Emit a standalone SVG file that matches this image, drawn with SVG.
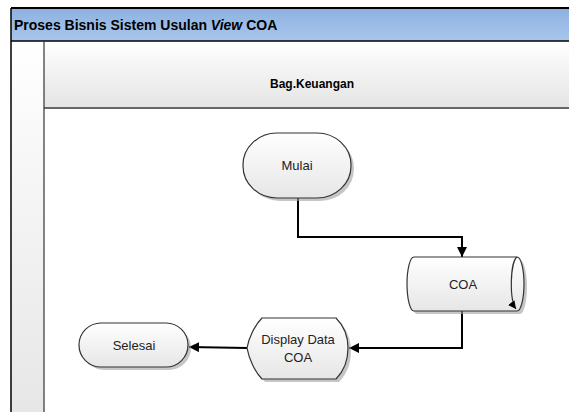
<svg xmlns="http://www.w3.org/2000/svg" width="569" height="412" viewBox="0 0 569 412">
<defs>
<linearGradient id="gTitle" x1="0" y1="0" x2="0" y2="1"><stop offset="0" stop-color="#8cb1e0"/><stop offset="1" stop-color="#a9c6ec"/></linearGradient>
<linearGradient id="gHead" x1="0" y1="0" x2="0" y2="1"><stop offset="0" stop-color="#ffffff"/><stop offset="1" stop-color="#e4e4e4"/></linearGradient>
<linearGradient id="gCol" x1="0" y1="0" x2="0" y2="1"><stop offset="0" stop-color="#ffffff"/><stop offset="1" stop-color="#e6e6e6"/></linearGradient>
<linearGradient id="gNode" x1="0" y1="0" x2="0" y2="1"><stop offset="0" stop-color="#ffffff"/><stop offset="1" stop-color="#e6e6e6"/></linearGradient>
<marker id="arr" viewBox="0 0 10 10" refX="10" refY="5" markerWidth="10" markerHeight="10" markerUnits="userSpaceOnUse" orient="auto"><path d="M0,0 L10,5 L0,10 z" fill="#000"/></marker>
<marker id="arrS" viewBox="0 0 10 10" refX="10" refY="5" markerWidth="8" markerHeight="8" markerUnits="userSpaceOnUse" orient="auto"><path d="M0,0 L10,5 L0,10 z" fill="#000"/></marker>
</defs>
<style>
.lbl{font-family:"Liberation Sans",Arial,sans-serif;font-size:13px;fill:#222;text-anchor:middle}
.shape{fill:url(#gNode);stroke:#333;stroke-width:1.2}
.shadow{fill:#a0a0a0;opacity:0.6}
.conn{fill:none;stroke:#000;stroke-width:2}
</style>
<rect x="0" y="0" width="569" height="412" fill="#fff"/>
<g id="pool">
<rect x="11" y="41" width="33" height="380" fill="url(#gCol)"/>
<rect x="11" y="8" width="570" height="33" fill="url(#gTitle)"/>
<rect x="44" y="41" width="530" height="67" fill="url(#gHead)"/>
<line x1="11" y1="8" x2="569" y2="8" stroke="#000" stroke-width="2"/>
<line x1="11" y1="41" x2="569" y2="41" stroke="#000" stroke-width="1.5"/>
<line x1="44" y1="108" x2="569" y2="108" stroke="#666" stroke-width="2"/>
<line x1="11" y1="8" x2="11" y2="412" stroke="#000" stroke-width="1.5"/>
<line x1="44" y1="41" x2="44" y2="412" stroke="#333" stroke-width="1.2"/>
<text x="14" y="30" font-family="'Liberation Sans',Arial,sans-serif" font-size="14" font-weight="bold" fill="#000">Proses Bisnis Sistem Usulan <tspan font-style="italic">View</tspan> COA</text>
<text x="312" y="88" font-family="'Liberation Sans',Arial,sans-serif" font-size="12" font-weight="bold" fill="#000" text-anchor="middle">Bag.Keuangan</text>
</g>
<g id="connectors">
<path class="conn" d="M298,198 V237 H462 V257" marker-end="url(#arr)"/>
<path class="conn" d="M462,311 V348 H349" marker-end="url(#arr)"/>
<path class="conn" d="M247,348 L189,347" marker-end="url(#arr)"/>
</g>
<g id="mulai">
<rect class="shadow" x="246" y="136" width="108" height="65" rx="34" ry="32"/>
<rect class="shape" x="243" y="133" width="108" height="65" rx="34" ry="32"/>
<text class="lbl" x="297" y="170">Mulai</text>
</g>
<g id="coa">
<path class="shadow" d="M417,260 H520 A7,27 0 0 1 520,314 H417 A7,27 0 0 1 417,260 z"/>
<path class="shape" d="M414,257 H517 A7,27 0 0 1 517,311 H414 A7,27 0 0 1 414,257 z"/>
<path d="M517,257 A7,27 0 0 0 516,309" fill="none" stroke="#333" stroke-width="1.2" marker-end="url(#arrS)"/>
<text class="lbl" x="463" y="289">COA</text>
</g>
<g id="display">
<path class="shadow" d="M265,321 H339 C347,329 351,340 351,351 C351,363 347,374 339,382 H265 C258,375 252,362 250,351 C252,340 258,328 265,321 z"/>
<path class="shape" d="M262,318 H336 C344,326 348,337 348,348 C348,360 344,371 336,379 H262 C255,372 249,359 247,348 C249,337 255,325 262,318 z"/>
<text class="lbl" x="298" y="344">Display Data</text>
<text class="lbl" x="298" y="362">COA</text>
</g>
<g id="selesai">
<rect class="shadow" x="82" y="326" width="109" height="44" rx="22" ry="22"/>
<rect class="shape" x="79" y="323" width="109" height="44" rx="22" ry="22"/>
<text class="lbl" x="134" y="350">Selesai</text>
</g>
</svg>
